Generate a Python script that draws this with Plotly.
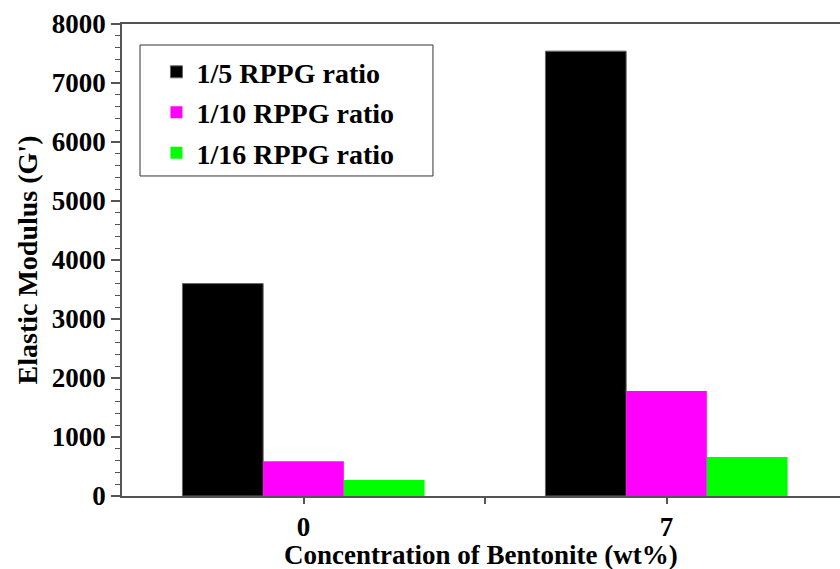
import plotly.graph_objects as go

categories = ["0", "7"]
series_names = ["1/5 RPPG ratio", "1/10 RPPG ratio", "1/16 RPPG ratio"]
ratio_1_5 = [3600, 7540]
ratio_1_10 = [590, 1780]
ratio_1_16 = [270, 660]
colors = ["#000000", "#FF00FF", "#00FF00"]
y_tick_vals = [0, 1000, 2000, 3000, 4000, 5000, 6000, 7000, 8000]

FONT = "Liberation Serif, Times New Roman, serif"
xpos = list(range(len(categories)))

fig = go.Figure()
for i, (name, vals) in enumerate(zip(series_names, [ratio_1_5, ratio_1_10, ratio_1_16])):
    fig.add_trace(go.Bar(
        x=xpos, y=vals, name=name, legendgroup=name,
        marker=dict(color=colors[i],
                    line=dict(color="#666666", width=1 if i == 0 else 0)),
    ))

# legend frame (drawn as a box around the legend entries)
fig.add_shape(type="rect", xref="paper", yref="paper",
              x0=0.0251, x1=0.4331, y0=0.678, y1=0.9555,
              line=dict(color="#333333", width=1), fillcolor="white", layer="above")

fig.update_layout(
    width=840, height=569,
    margin=dict(l=122, r=0, t=24, b=73),
    paper_bgcolor="white", plot_bgcolor="white",
    barmode="group", bargap=0.333, bargroupgap=0,
    font=dict(family=FONT, color="black"),
    legend=dict(
        x=0.048, y=0.951, xanchor="left", yanchor="top",
        bgcolor="rgba(0,0,0,0)", borderwidth=0,
        font=dict(family=FONT, size=28, color="black", weight="bold"),
        traceorder="grouped", tracegroupgap=1,
    ),
    xaxis=dict(
        range=[-0.5, -0.5 + 718 / 363],
        tickvals=[0, 0.5, 1], ticktext=[categories[0], "", categories[1]],
        ticks="outside", ticklen=6, tickcolor="#555555", tickwidth=1.5,
        showline=True, linecolor="#555555", linewidth=1.5, mirror=True,
        showgrid=False, zeroline=False,
        tickfont=dict(family=FONT, size=27, color="black", weight="bold"),
    ),
    yaxis=dict(
        range=[0, 8000], tickvals=y_tick_vals,
        ticks="outside", ticklen=9, tickcolor="#555555", tickwidth=1.5,
        minor=dict(dtick=200, ticks="outside", ticklen=5, tickcolor="#555555", tickwidth=1),
        showline=True, linecolor="#555555", linewidth=1.5,
        showgrid=False, zeroline=False,
        tickfont=dict(family=FONT, size=27, color="black", weight="bold"),
        title=dict(text="Elastic Modulus (G')", standoff=6,
                   font=dict(family=FONT, size=28, color="black", weight="bold")),
    ),
    annotations=[dict(
        text="Concentration of Bentonite (wt%)", xref="paper", yref="paper",
        x=0.5, y=-0.1245, xanchor="center", yanchor="middle", showarrow=False,
        borderpad=0,
        font=dict(family=FONT, size=27, color="black", weight="bold"),
    )],
)

fig.write_html("out.html", config={"displayModeBar": False},
               post_script="document.body.style.margin='0';document.body.style.padding='0';")
